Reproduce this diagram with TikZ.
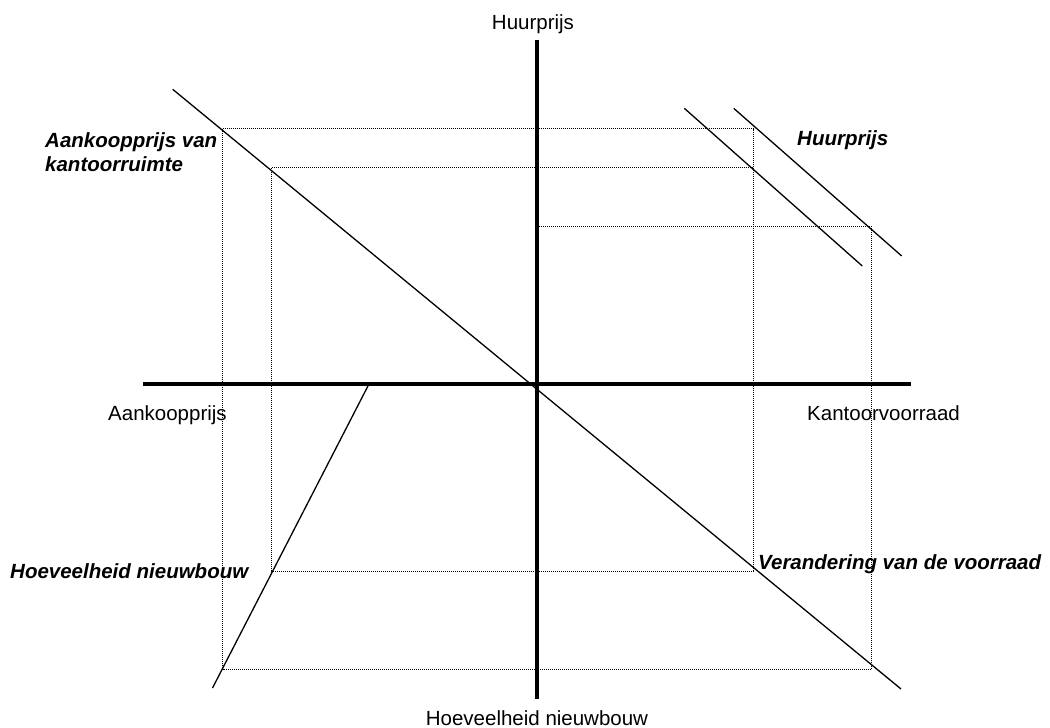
\documentclass[tikz,border=0pt]{standalone}
\usepackage{fontspec}
\setmainfont{Liberation Sans}
\begin{document}
\begin{tikzpicture}[x=1pt,y=-1pt,
  axis/.style={line width=3.6pt},
  curve/.style={line width=1.3pt},
  guide/.style={line width=0.8pt,dash pattern=on 1pt off 1pt},
  plain/.style={inner sep=0pt,font=\fontsize{20.5}{24}\selectfont},
  emph/.style={inner sep=0pt,font=\fontsize{20.5}{24}\selectfont\bfseries\itshape}]
\useasboundingbox (0,0) rectangle (1050,728);
% axes
\coordinate (vt) at (537,40);
\coordinate (vb) at (537,699);
\coordinate (hl) at (143,384);
\coordinate (hr) at (911,384);
% curves
\coordinate (d1) at (172.7,89.3);
\coordinate (d2) at (901,689);
\coordinate (a1) at (684.3,108.3);
\coordinate (a2) at (862.3,266);
\coordinate (b1) at (733.7,108.3);
\coordinate (b2) at (901.7,256);
\coordinate (n1) at (369,384);
\coordinate (n2) at (212.5,688);
% guide corners
\coordinate (p1) at (222.5,128.5);
\coordinate (p2) at (753,128.5);
\coordinate (q1) at (271.7,167.5);
\coordinate (q2) at (753,167.5);
\coordinate (r1) at (537,226.7);
\coordinate (r2) at (871.7,226.7);
\coordinate (s1) at (271.7,571);
\coordinate (s2) at (753,571);
\coordinate (t1) at (222.5,669);
\coordinate (t2) at (871.7,669);
% dotted guides
\draw[guide] (p1) -- (p2) -- (s2) -- (s1) -- (q1) -- (q2);
\draw[guide] (p1) -- (t1) -- (t2) -- (r2) -- (r1);
% axes
\draw[axis] (vt) -- (vb);
\draw[axis] (hl) -- (hr);
% curves
\draw[curve] (d1) -- (d2);
\draw[curve] (a1) -- (a2);
\draw[curve] (b1) -- (b2);
\draw[curve] (n1) -- (n2);
% labels
\node[plain,anchor=base] (ly) at (533,29.5) {Huurprijs};
\node[plain,anchor=base] (lyb) at (537,725) {Hoeveelheid nieuwbouw};
\node[plain,anchor=base west] (lxl) at (108,420) {Aankoopprijs};
\node[plain,anchor=base west] (lxr) at (807,420.5) {Kantoorvoorraad};
\node[emph,anchor=base west] (l1a) at (45,147.7) {Aankoopprijs van};
\node[emph,anchor=base west] (l1b) at (45,171.7) {kantoorruimte};
\node[emph,anchor=base west] (l2) at (797,145) {Huurprijs};
\node[emph,anchor=base west] (l3) at (10,578) {Hoeveelheid nieuwbouw};
\node[emph,anchor=base west] (l4) at (758,569) {Verandering van de voorraad};
\end{tikzpicture}
\end{document}
